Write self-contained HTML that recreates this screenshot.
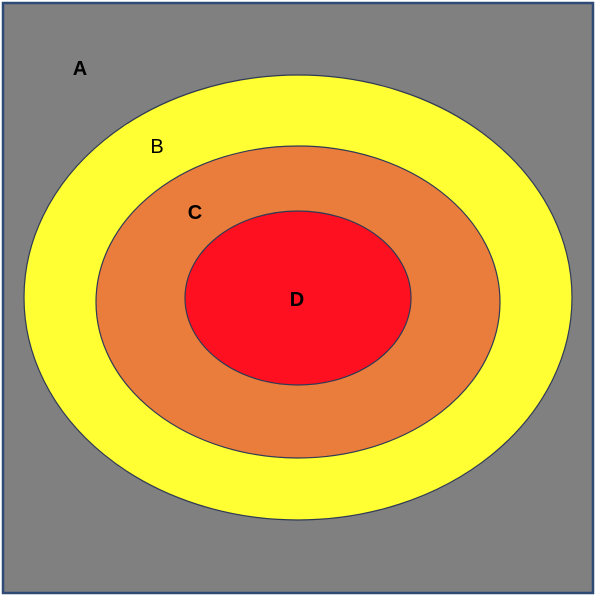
<!DOCTYPE html>
<html><head><style>html,body{margin:0;padding:0;background:#fff;}</style></head>
<body>
<svg width="602" height="600" viewBox="0 0 602 600" xmlns="http://www.w3.org/2000/svg" font-family="Liberation Sans, sans-serif">
<rect x="0" y="0" width="602" height="600" fill="#fff"/>
<rect x="3" y="3" width="590" height="590" fill="#808080" stroke="#2f4a75" stroke-width="2.5"/>
<ellipse cx="298" cy="297.5" rx="274" ry="222.5" fill="#ffff33" stroke="#2f3a55" stroke-width="1.2"/>
<ellipse cx="298" cy="302" rx="202" ry="156" fill="#ea7d3c" stroke="#2f3a55" stroke-width="1.2"/>
<ellipse cx="298" cy="298" rx="113" ry="87" fill="#fe1020" stroke="#2f3a55" stroke-width="1.2"/>
<text x="80" y="75" font-size="20" font-weight="bold" text-anchor="middle" fill="#000">A</text>
<text x="157" y="153" font-size="20" text-anchor="middle" fill="#000">B</text>
<text x="195" y="219" font-size="20" font-weight="bold" text-anchor="middle" fill="#000">C</text>
<text x="297" y="306" font-size="20" font-weight="bold" text-anchor="middle" fill="#000">D</text>
</svg>
</body></html>
